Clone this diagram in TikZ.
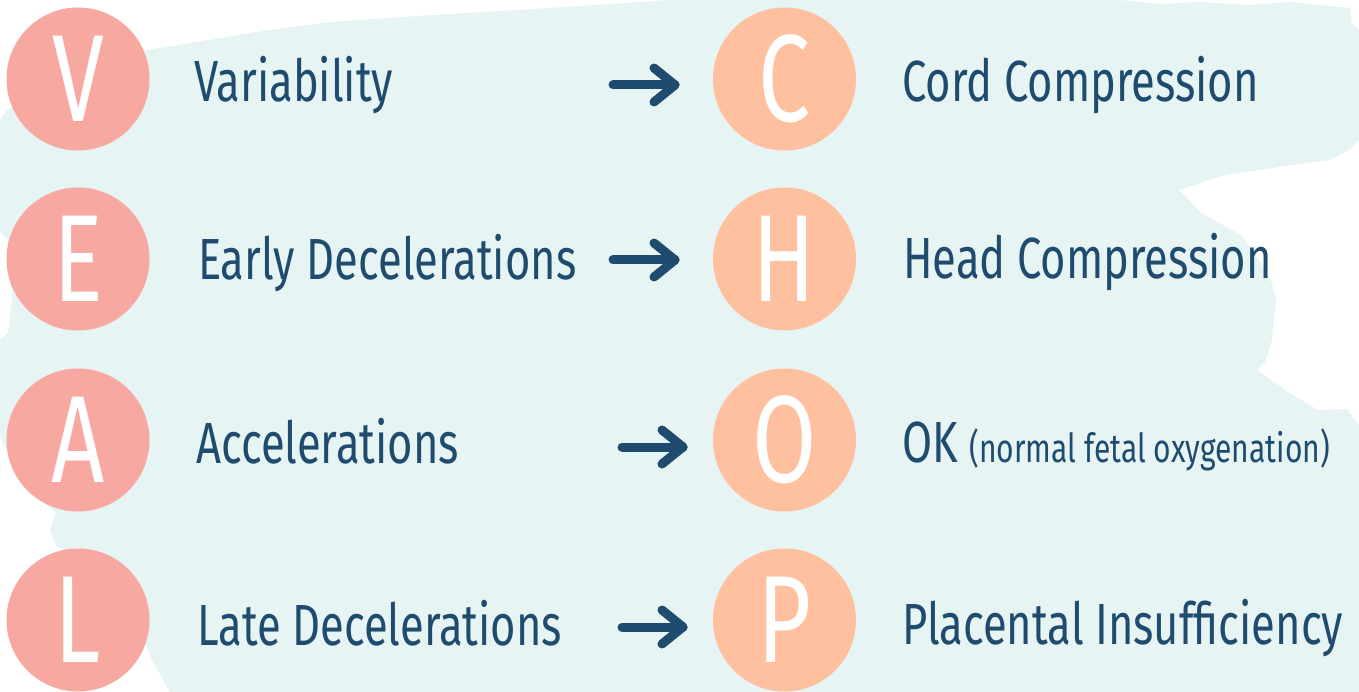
\documentclass[tikz,border=0pt]{standalone}
\usepackage{fontspec}
\newfontfamily\hand{Fira Sans}[FakeStretch=0.75]
\usetikzlibrary{calc}
\definecolor{bgblue}{HTML}{E7F4F4}
\definecolor{pinkc}{HTML}{F6A8A1}
\definecolor{peachc}{HTML}{FEC09F}
\definecolor{navy}{HTML}{1F4B6E}
\begin{document}
\begin{tikzpicture}[x=1pt,y=-1pt,
  lcirc/.style={fill=pinkc},
  rcirc/.style={fill=peachc},
  letter/.style={text=white, inner sep=0pt, font=\hand\fontsize{124}{124}\selectfont},
  itemtxt/.style={text=navy, font=\hand\fontsize{58}{58}\selectfont, inner sep=0pt, anchor=base west},
  arrowline/.style={draw=navy, line width=9pt, line cap=round, line join=round}]
\useasboundingbox (0,0) rectangle (1359,692);
% brush background
\fill[bgblue] (0,120) -- (6,111) -- (60,80) -- (147,50) -- (196,42) -- (268,30) -- (330,22)
  -- (433,15) -- (550,8) -- (670,0) -- (1120,0) -- (1160,4) -- (1200,2) -- (1250,5) -- (1290,2)
  -- (1330,6) -- (1351,8) -- (1351,22) -- (1359,30) -- (1359,140) -- (1352,148) -- (1330,160)
  -- (1305,163) -- (1260,170) -- (1225,175) -- (1179,190) -- (1200,212) -- (1242,236)
  -- (1262,265) -- (1272,283) -- (1276,300) -- (1272,340) -- (1265,362) -- (1257,370)
  -- (1288,392) -- (1318,410) -- (1347,409) -- (1359,425) -- (1359,692) -- (170,692)
  -- (152,660) -- (120,580) -- (56,546) -- (50,530) -- (56,513) -- (20,480) -- (2,440)
  -- (0,436) -- (0,340) -- (8,332) -- (12,300) -- (8,240) -- (0,232) -- cycle;
% left circles
\fill[lcirc] (78,79) circle (71.5);
\fill[lcirc] (78,259) circle (71.5);
\fill[lcirc] (78,440) circle (71.5);
\fill[lcirc] (78,620) circle (71.5);
\node[letter] (V) at (78,79) {V};
\node[letter] (E) at (78,259) {E};
\node[letter] (A) at (78,440) {A};
\node[letter] (L) at (78,620) {L};
% right circles
\fill[rcirc] (784.5,79) circle (71.5);
\fill[rcirc] (784.5,259) circle (71.5);
\fill[rcirc] (784.5,440) circle (71.5);
\fill[rcirc] (784.5,620) circle (71.5);
\node[letter] (C) at (784.5,79) {C};
\node[letter] (H) at (784.5,259) {H};
\node[letter] (O) at (784.5,440) {O};
\node[letter] (P) at (784.5,620) {P};
% left texts
\node[itemtxt] (tV) at (194,102) {Variability};
\node[itemtxt] (tE) at (198,280) {Early Decelerations};
\node[itemtxt] (tA) at (196,463) {Accelerations};
\node[itemtxt] (tL) at (197,645) {Late Decelerations};
% right texts
\node[itemtxt] (tC) at (902,102) {Cord Compression};
\node[itemtxt] (tH) at (903,279) {Head Compression};
\node[itemtxt] (tO) at (902,462) {OK {\fontsize{40}{40}\selectfont (normal fetal oxygenation)}};
\node[itemtxt] (tP) at (902,644) {Placental Insufficiency};
% arrows
\coordinate (s1) at (613,85);  \coordinate (e1) at (675,85);
\coordinate (s2) at (613,260); \coordinate (e2) at (675,260);
\coordinate (s3) at (622,447); \coordinate (e3) at (683,447);
\coordinate (s4) at (622,627); \coordinate (e4) at (683,627);
\foreach \i in {1,2,3,4}{
  \draw[arrowline] (s\i) -- (e\i);
  \draw[arrowline] (e\i) ++(-21,-17) -- (e\i) -- ++(-21,17);
}
\end{tikzpicture}
\end{document}
